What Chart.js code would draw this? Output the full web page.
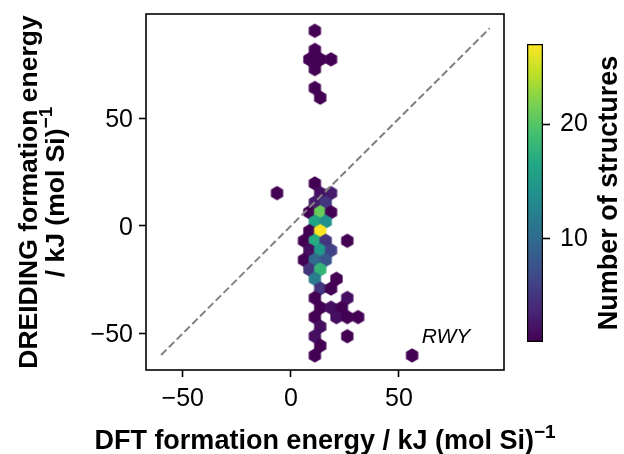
<!DOCTYPE html>
<html>
<head>
<meta charset="utf-8">
<script src="https://cdn.jsdelivr.net/npm/chart.js@4"></script>
<style>
  html, body { margin: 0; padding: 0; background: #fff; }
  #wrap { position: relative; width: 624px; height: 454px; }
  #main { position: absolute; left: 0; top: 0; }
  #bar { position: absolute; left: 510px; top: 0; }
</style>
</head>
<body>
<div id="wrap">
  <canvas id="main" width="624" height="454"></canvas>
  <canvas id="bar" width="114" height="454"></canvas>
</div>
<script>
const FONT = "'Liberation Sans', Arial, sans-serif";
Chart.defaults.font.family = FONT;
Chart.defaults.color = "#000";

// hexbin cells: centre (DFT, DREIDING) and number of structures
const hexX = [
  11.1,
  11.1,
  8.6, 13.6, 18.6,
  11.1,
  11.1,
  13.6,
  11.1,
  -6.4, 13.6, 18.6,
  11.1, 16.1,
  8.6, 13.6, 18.6,
  11.1, 16.1,
  8.6, 13.6,
  6.1, 11.1, 16.1, 26.1,
  8.6, 13.6, 18.6,
  6.1, 11.1, 16.1,
  8.6, 13.6,
  11.1, 21.1,
  13.6, 18.6,
  11.1, 26.1,
  13.6, 18.6, 23.6,
  11.1, 21.1, 26.1, 31.1,
  13.6,
  11.1, 26.1,
  13.6,
  11.1, 56.1
];
const hexY = [
  90.8,
  81.9,
  77.5, 77.5, 77.5,
  73.0,
  64.2,
  59.7,
  19.8,
  15.3, 15.3, 15.3,
  10.9, 10.9,
  6.4, 6.4, 6.4,
  2.0, 2.0,
  -2.4, -2.4,
  -6.9, -6.9, -6.9, -6.9,
  -11.3, -11.3, -11.3,
  -15.8, -15.8, -15.8,
  -20.2, -20.2,
  -24.6, -24.6,
  -29.1, -29.1,
  -33.5, -33.5,
  -38.0, -38.0, -38.0,
  -42.4, -42.4, -42.4, -42.4,
  -46.8,
  -51.3, -51.3,
  -55.7,
  -60.2, -60.2
];
const hexCount = [
  1,
  1,
  1, 1, 1,
  1,
  1,
  1,
  1,
  1, 2, 3,
  3, 5,
  1, 21, 1,
  16, 14,
  1, 27,
  1, 17, 5, 1,
  2, 15, 6,
  1, 10, 8,
  5, 18,
  12, 1,
  5, 1,
  1, 2,
  1, 2, 1,
  1, 2, 1, 1,
  2,
  2, 1,
  1,
  1, 1
];
const hexWidth = 5.0;   // sx
const hexHeight = 5.92; // 2*sy/3

const parityX = [-60, 92];
const parityY = [-60, 92];
const axisTicks = [-50, 0, 50];
const countTicks = [10, 20];
const countMin = 1;
const countMax = 27;
const rwyLabel = { text: "RWY", x: 60.5, y: -51.5 };

const xTitle = ["DFT formation energy / kJ (mol Si)", "\u22121"];
const yTitle = [["DREIDING formation energy", ""], ["/ kJ (mol Si)", "\u22121"]];
const cbarTitle = "Number of structures";

const viridis = ["#440154", "#482475", "#414487", "#355f8d", "#2a788e",
  "#21918c", "#22a884", "#44bf70", "#7ad151", "#bddf26", "#fde725"];

function hexToRgb(h) {
  return [1, 3, 5].map(i => parseInt(h.slice(i, i + 2), 16));
}

function viridisAt(t) {
  t = Math.min(1, Math.max(0, t));
  const p = t * (viridis.length - 1);
  const i = Math.min(viridis.length - 2, Math.floor(p));
  const f = p - i;
  const a = hexToRgb(viridis[i]), b = hexToRgb(viridis[i + 1]);
  const c = a.map((v, k) => Math.round(v + (b[k] - v) * f));
  return `rgb(${c[0]},${c[1]},${c[2]})`;
}

function countColor(n) {
  return viridisAt((n - countMin) / (countMax - countMin));
}

const hexCache = {};
function hexImage(color, w, h) {
  const key = color + "|" + w.toFixed(2) + "|" + h.toFixed(2);
  if (hexCache[key]) return hexCache[key];
  const lw = 1.5;
  const cw = Math.ceil(w + lw) + 2;
  const ch = Math.ceil(h + lw) + 2;
  const c = document.createElement("canvas");
  c.width = cw;
  c.height = ch;
  const g = c.getContext("2d");
  const cx = cw / 2, cy = ch / 2;
  g.beginPath();
  g.moveTo(cx, cy - h / 2);
  g.lineTo(cx + w / 2, cy - h / 4);
  g.lineTo(cx + w / 2, cy + h / 4);
  g.lineTo(cx, cy + h / 2);
  g.lineTo(cx - w / 2, cy + h / 4);
  g.lineTo(cx - w / 2, cy - h / 4);
  g.closePath();
  g.fillStyle = color;
  g.fill();
  g.strokeStyle = color;
  g.lineWidth = lw;
  g.lineJoin = "round";
  g.stroke();
  hexCache[key] = c;
  return c;
}

function fmt(v) {
  return v < 0 ? "\u2212" + Math.abs(v) : String(v);
}

// text with a small raised exponent, centred on x, baseline at 0
function supText(ctx, main, sup, size) {
  const big = "bold " + size + "px " + FONT;
  const small = "bold " + Math.round(size * 0.7) + "px " + FONT;
  ctx.font = big;
  const w1 = ctx.measureText(main).width;
  ctx.font = small;
  const w2 = sup ? ctx.measureText(sup).width : 0;
  const x0 = -(w1 + w2) / 2;
  ctx.font = big;
  ctx.textAlign = "left";
  ctx.textBaseline = "alphabetic";
  ctx.fillText(main, x0, 0);
  if (sup) {
    ctx.font = small;
    ctx.fillText(sup, x0 + w1, -size * 0.42);
  }
}

const framePlugin = {
  id: "frame",
  afterDatasetsDraw(chart) {
    const { ctx, chartArea: a } = chart;
    ctx.save();
    ctx.strokeStyle = "#000";
    ctx.lineWidth = 1.6;
    ctx.strokeRect(a.left, a.top, a.right - a.left, a.bottom - a.top);
    ctx.font = "italic 21px " + FONT;
    ctx.textBaseline = "middle";
    ctx.textAlign = "left";
    ctx.fillStyle = "#000";
    ctx.fillText(rwyLabel.text,
      chart.scales.x.getPixelForValue(rwyLabel.x),
      chart.scales.y.getPixelForValue(rwyLabel.y));
    ctx.restore();
  },
  afterDraw(chart) {
    const { ctx, chartArea: a } = chart;
    ctx.save();
    ctx.fillStyle = "#000";
    ctx.translate((a.left + a.right) / 2, 449);
    supText(ctx, xTitle[0], xTitle[1], 27);
    ctx.restore();
    yTitle.forEach((line, i) => {
      ctx.save();
      ctx.fillStyle = "#000";
      ctx.translate(37 + i * 26.5, (a.top + a.bottom) / 2);
      ctx.rotate(-Math.PI / 2);
      supText(ctx, line[0], line[1], 26.5);
      ctx.restore();
    });
  }
};

const tickGrid = {
  drawOnChartArea: false,
  drawTicks: true,
  tickLength: 7,
  tickColor: "#000",
  tickWidth: 1.6
};

new Chart(document.getElementById("main"), {
  type: "scatter",
  data: {
    datasets: [
      {
        data: parityX.map((x, i) => ({ x, y: parityY[i] })),
        showLine: true,
        borderColor: "#808080",
        borderWidth: 2,
        borderDash: [7.5, 3.5],
        pointRadius: 0,
        order: 0
      },
      {
        data: hexX.map((x, i) => ({ x, y: hexY[i] })),
        order: 1,
        pointStyle: ctx => {
          const n = hexCount[ctx.dataIndex] || countMin;
          const xs = ctx.chart.scales.x, ys = ctx.chart.scales.y;
          const w = Math.abs(xs.getPixelForValue(hexWidth) - xs.getPixelForValue(0));
          const h = Math.abs(ys.getPixelForValue(hexHeight) - ys.getPixelForValue(0));
          return hexImage(countColor(n), w, h);
        }
      }
    ]
  },
  options: {
    responsive: false,
    animation: false,
    events: [],
    layout: { padding: { top: 14, right: 120, bottom: 0, left: 0 } },
    plugins: { legend: { display: false }, tooltip: { enabled: false } },
    scales: {
      x: {
        type: "linear",
        min: -67,
        max: 98.6,
        afterBuildTicks: s => { s.ticks = axisTicks.map(v => ({ value: v })); },
        afterFit: s => { s.height = 84; s.paddingLeft = 0; s.paddingRight = 0; },
        border: { display: false },
        grid: tickGrid,
        ticks: { font: { size: 25 }, color: "#000", padding: 7, maxRotation: 0, callback: v => fmt(v) }
      },
      y: {
        type: "linear",
        min: -67,
        max: 98.6,
        afterBuildTicks: s => { s.ticks = axisTicks.map(v => ({ value: v })); },
        afterFit: s => { s.width = 146; s.paddingTop = 0; s.paddingBottom = 0; },
        border: { display: false },
        grid: tickGrid,
        ticks: { font: { size: 25 }, color: "#000", padding: 6, labelOffset: 2, callback: v => fmt(v) }
      }
    }
  },
  plugins: [framePlugin]
});

const cbTitle = {
  id: "cbTitle",
  afterDraw(chart) {
    const { ctx, chartArea: a } = chart;
    ctx.save();
    ctx.translate(100, (a.top + a.bottom) / 2);
    ctx.rotate(-Math.PI / 2);
    ctx.font = "bold 27px " + FONT;
    ctx.textAlign = "center";
    ctx.textBaseline = "middle";
    ctx.fillStyle = "#000";
    ctx.fillText(cbarTitle, 0, 0);
    ctx.restore();
  }
};

new Chart(document.getElementById("bar"), {
  type: "bar",
  data: {
    labels: [""],
    datasets: [{
      data: [[countMin, countMax]],
      backgroundColor: ctx => {
        const a = ctx.chart.chartArea;
        if (!a) return viridis[0];
        const g = ctx.chart.ctx.createLinearGradient(0, a.bottom, 0, a.top);
        viridis.forEach((c, i) => g.addColorStop(i / (viridis.length - 1), c));
        return g;
      },
      borderColor: "#000",
      borderWidth: 1.6,
      borderSkipped: false,
      barPercentage: 1,
      categoryPercentage: 1
    }]
  },
  options: {
    responsive: false,
    animation: false,
    events: [],
    layout: { padding: { left: 17, top: 44, bottom: 112, right: 0 } },
    plugins: { legend: { display: false }, tooltip: { enabled: false } },
    scales: {
      x: { display: false },
      y: {
        position: "right",
        min: countMin,
        max: countMax,
        afterBuildTicks: s => { s.ticks = countTicks.map(v => ({ value: v })); },
        afterFit: s => { s.width = 81; s.paddingTop = 0; s.paddingBottom = 0; },
        border: { display: false },
        grid: tickGrid,
        ticks: { font: { size: 25 }, color: "#000", padding: 10 }
      }
    }
  },
  plugins: [cbTitle]
});
</script>
</body>
</html>
